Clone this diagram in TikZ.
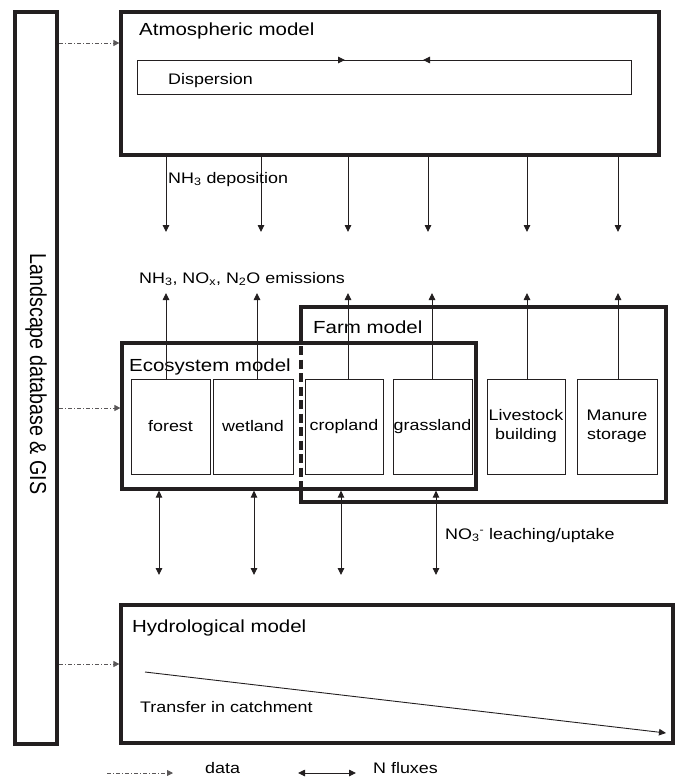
\documentclass[tikz,border=0pt]{standalone}
\usepackage{graphicx}
\usepackage{fontspec}
\setmainfont{Liberation Sans}[FakeStretch=1.17]
\newfontfamily\landfont{Liberation Sans}
\usetikzlibrary{arrows.meta}
\definecolor{ink}{RGB}{35,31,32}
\begin{document}
\begin{tikzpicture}[x=1pt,y=-1pt,
  thickbox/.style={draw=ink,line width=3.2pt,inner sep=0pt,outer sep=0pt},
  thinbox/.style={draw=ink,line width=0.9pt,inner sep=0pt,outer sep=0pt},
  titletext/.style={anchor=base west,inner sep=0pt,font=\fontsize{17.5}{20}\selectfont},
  labeltext/.style={anchor=base west,inner sep=0pt,font=\fontsize{15.3}{18}\selectfont},
  boxtext/.style={font=\fontsize{15.3}{19}\selectfont,align=center},
  flux/.style={draw=ink,line width=0.9pt,-{Triangle[length=7pt,width=6.5pt]}},
  dflux/.style={draw=ink,line width=0.9pt,{Triangle[length=7pt,width=6.5pt]}-{Triangle[length=7pt,width=6.5pt]}},
  dataarrow/.style={draw=ink!75,line width=0.8pt,dash pattern=on 4pt off 2pt on 1pt off 2pt,-{Triangle[length=6pt,width=6pt]}}
]
\useasboundingbox (0,0) rectangle (678,778);

% Landscape database
\node[thickbox,minimum width=42pt,minimum height=732pt] (land) at (36,378) {};
\node[rotate=-90,inner sep=0pt,font=\landfont\fontsize{19.7}{22}\selectfont] (landtxt) at (36,374) {\scalebox{1}[1.17]{Landscape database \& GIS}};

% Atmospheric model
\node[thickbox,minimum width=538pt,minimum height=143pt] (atm) at (390,83.5) {};
\node[titletext] (atmt) at (139,36) {Atmospheric model};
\node[thinbox,minimum width=494pt,minimum height=34pt] (disp) at (384,77) {};
\node[labeltext] (dispt) at (168,85) {Dispersion};
\coordinate (dr) at (345,60);
\coordinate (dl) at (423,60);
\draw[flux] (disp.north west) -- (dr);
\draw[flux] (disp.north east) -- (dl);

% deposition arrows
\foreach \x [count=\i] in {166,261,348,428,527,618} {
  \coordinate (dn\i) at (\x,232);
  \draw[flux] (atm.south -| dn\i) -- (dn\i);
}
\node[labeltext] (deplab) at (168,183) {NH\textsubscript{3} deposition};
\node[labeltext] (emilab) at (139,283) {NH\textsubscript{3}, NO\textsubscript{x}, N\textsubscript{2}O emissions};

% Farm and ecosystem models
\node[inner sep=0pt,outer sep=0pt,minimum width=365pt,minimum height=195pt] (farm) at (483.5,404.5) {};
\node[thickbox,minimum width=354pt,minimum height=146pt] (eco) at (299,416) {};
\draw[ink,line width=3.2pt] (eco.north -| farm.west) -- (farm.north west) -- (farm.north east)
   -- (farm.south east) -- (farm.south west) -- (eco.south -| farm.west);
\draw[ink,line width=3.2pt,dash pattern=on 9pt off 4.5pt,dash phase=-3pt] (eco.north -| farm.west) -- (eco.south -| farm.west);
\node[titletext] (farmt) at (313,333) {Farm model};
\node[titletext] (ecot) at (129,371) {Ecosystem model};

\node[thinbox,boxtext,minimum width=79pt,minimum height=95pt] (forest) at (170.5,426.5) {forest};
\node[thinbox,boxtext,minimum width=80pt,minimum height=95pt] (wetland) at (253,426.5) {wetland};
\node[thinbox,boxtext,minimum width=78pt,minimum height=95pt] (cropland) at (344,426.5) {cropland};
\node[thinbox,boxtext,minimum width=79pt,minimum height=95pt] (grassland) at (432.5,426.5) {grassland};
\node[thinbox,boxtext,minimum width=78pt,minimum height=95pt] (livestock) at (526,426.5) {Livestock\\building};
\node[thinbox,boxtext,minimum width=80pt,minimum height=95pt] (manure) at (617,426.5) {Manure\\storage};

% emission arrows
\foreach \n/\x [count=\i] in {forest/166,wetland/257,cropland/348,grassland/432,livestock/527,manure/618} {
  \coordinate (up\i) at (\x,293);
  \draw[flux] (\n.north -| up\i) -- (up\i);
}

% leaching arrows
\foreach \x [count=\i] in {159,254,341,436} {
  \coordinate (lb\i) at (\x,575);
  \draw[dflux,shorten <=1.6pt] (eco.south -| lb\i) -- (lb\i);
}
\node[labeltext] (leachlab) at (445,539) {NO\textsubscript{3}\textsuperscript{-} leaching/uptake};

% Hydrological model
\node[thickbox,minimum width=552pt,minimum height=138pt] (hydro) at (397,674) {};
\node[titletext] (hydrot) at (132,632) {Hydrological model};
\coordinate (tr1) at (145,672);
\coordinate (tr2) at (666,733);
\draw[flux] (tr1) -- (tr2);
\node[labeltext] (trlab) at (140,712) {Transfer in catchment};

% data arrows
\path (atm.north west) ++(0,31) coordinate (a1);
\path (eco.north west) ++(0,65) coordinate (a2);
\path (hydro.north west) ++(0,59) coordinate (a3);
\foreach \c in {a1,a2,a3} {
  \draw[dataarrow,shorten <=2pt,shorten >=1.6pt] (land.east |- \c) -- (\c);
}

% legend
\coordinate (lg1) at (107,773);
\coordinate (lg2) at (173,773);
\draw[dataarrow] (lg1) -- (lg2);
\node[labeltext] (lgdata) at (205,773) {data};
\coordinate (lg3) at (298,773);
\coordinate (lg4) at (356,773);
\draw[dflux] (lg3) -- (lg4);
\node[labeltext] (lgflux) at (373,773) {N fluxes};
\end{tikzpicture}
\end{document}
